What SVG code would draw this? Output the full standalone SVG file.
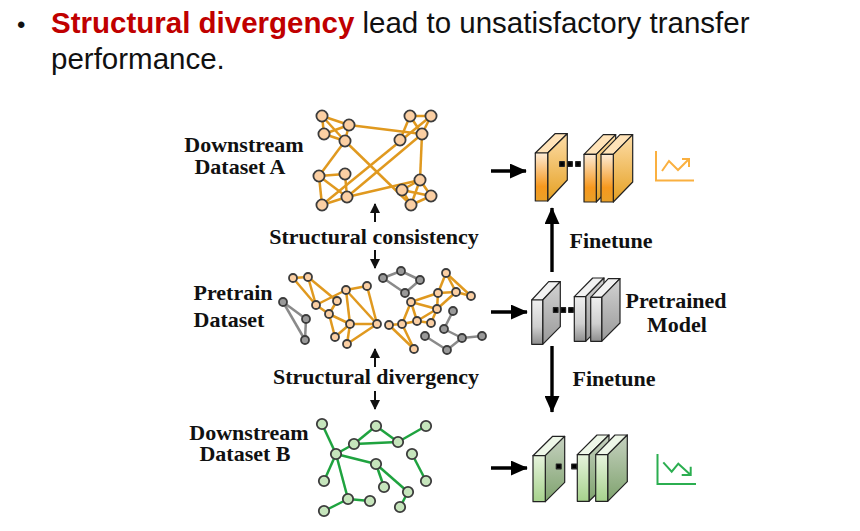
<svg xmlns="http://www.w3.org/2000/svg" width="860" height="531" viewBox="0 0 860 531">
<style>
text{font-family:"Liberation Serif","Times New Roman",serif;font-weight:bold;font-size:22px;fill:#111}
.t{font-family:"Liberation Sans",Arial,sans-serif;font-weight:normal;font-size:29.5px;fill:#111}
.o line{stroke:#E0991F;stroke-width:2.5}
.g line{stroke:#8a8a8a;stroke-width:2.5}
.n line{stroke:#1FA33F;stroke-width:2.5}
.oc circle{fill:#FBCFA3;stroke:#3c3c3c;stroke-width:1.8}
.gc circle{fill:#999;stroke:#3c3c3c;stroke-width:1.8}
.nc circle{fill:#C6E5BC;stroke:#3c3c3c;stroke-width:1.8}
.thin{stroke:#111;stroke-width:2;fill:none}
.thick{stroke:#000;stroke-width:3.4;fill:none}
.block path{stroke:#222;stroke-width:1.2;stroke-linejoin:round}
</style>
<defs>
<linearGradient id="of" x1="0" y1="0" x2="0" y2="1"><stop offset="0" stop-color="#FDEBD6"/><stop offset=".7" stop-color="#F6981E"/><stop offset="1" stop-color="#E9A028"/></linearGradient>
<linearGradient id="os" x1="0" y1="0" x2="0" y2="1"><stop offset="0" stop-color="#FDDDA8"/><stop offset="1" stop-color="#E5A022"/></linearGradient>
<linearGradient id="gf" x1="0" y1="0" x2="0" y2="1"><stop offset="0" stop-color="#EFEFEF"/><stop offset=".6" stop-color="#CFCFCF"/><stop offset="1" stop-color="#8E8E8E"/></linearGradient>
<linearGradient id="gs" x1="0" y1="0" x2="0" y2="1"><stop offset="0" stop-color="#D2D2D2"/><stop offset="1" stop-color="#999"/></linearGradient>
<linearGradient id="nf" x1="0" y1="0" x2="0" y2="1"><stop offset="0" stop-color="#E6F3DC"/><stop offset="1" stop-color="#A6D28C"/></linearGradient>
<linearGradient id="ns" x1="0" y1="0" x2="0" y2="1"><stop offset="0" stop-color="#C6D1C0"/><stop offset="1" stop-color="#7FA36E"/></linearGradient>
<marker id="ah" viewBox="0 0 10 10" refX="9" refY="5" markerWidth="10" markerHeight="10" markerUnits="userSpaceOnUse" orient="auto"><path d="M0 0L10 5L0 10Z" fill="#111"/></marker>
<marker id="AH" viewBox="0 0 10 10" refX="9.5" refY="5" markerWidth="17" markerHeight="15" markerUnits="userSpaceOnUse" orient="auto" preserveAspectRatio="none"><path d="M0 0L10 5L0 10Z" fill="#000"/></marker>
</defs>
<rect width="860" height="531" fill="#fff"/>

<g id="title">
<text class="t" x="17" y="33" style="font-size:24px">•</text>
<text class="t" x="51" y="33"><tspan font-weight="bold" fill="#C00000">Structural divergency</tspan> lead to unsatisfactory transfer</text>
<text class="t" x="51" y="69">performance.</text>
</g>

<g id="connectors">
<g class="o">
<line x1="322" y1="116" x2="349" y2="125"/><line x1="322" y1="116" x2="324" y2="134"/><line x1="322" y1="116" x2="345" y2="141"/><line x1="349" y1="125" x2="324" y2="134"/><line x1="349" y1="125" x2="345" y2="141"/><line x1="324" y1="134" x2="345" y2="141"/>
<line x1="349" y1="125" x2="422" y2="134"/><line x1="345" y1="141" x2="319" y2="176"/><line x1="345" y1="141" x2="411" y2="205"/>
<line x1="410" y1="116" x2="431" y2="116"/><line x1="410" y1="116" x2="400" y2="140"/><line x1="410" y1="116" x2="422" y2="134"/><line x1="431" y1="116" x2="422" y2="134"/><line x1="431" y1="116" x2="322" y2="205"/><line x1="422" y1="134" x2="347" y2="197"/><line x1="422" y1="134" x2="420" y2="180"/>
<line x1="319" y1="176" x2="345" y2="174"/><line x1="319" y1="176" x2="322" y2="205"/><line x1="319" y1="176" x2="347" y2="197"/><line x1="345" y1="174" x2="347" y2="197"/><line x1="347" y1="197" x2="322" y2="205"/><line x1="347" y1="197" x2="420" y2="180"/>
<line x1="420" y1="180" x2="402" y2="190"/><line x1="420" y1="180" x2="431" y2="196"/><line x1="420" y1="180" x2="411" y2="205"/><line x1="402" y1="190" x2="431" y2="196"/><line x1="402" y1="190" x2="411" y2="205"/><line x1="431" y1="196" x2="411" y2="205"/>

<line x1="293" y1="278" x2="308" y2="277"/><line x1="293" y1="278" x2="316" y2="305"/><line x1="308" y1="277" x2="316" y2="305"/><line x1="308" y1="277" x2="337" y2="301"/><line x1="316" y1="305" x2="346" y2="290"/><line x1="316" y1="305" x2="329" y2="314"/><line x1="337" y1="301" x2="329" y2="314"/><line x1="346" y1="290" x2="367" y2="286"/><line x1="346" y1="290" x2="350" y2="324"/><line x1="346" y1="290" x2="377" y2="324"/><line x1="367" y1="286" x2="377" y2="324"/><line x1="329" y1="314" x2="350" y2="324"/><line x1="329" y1="314" x2="335" y2="337"/><line x1="350" y1="324" x2="377" y2="324"/><line x1="350" y1="324" x2="335" y2="337"/><line x1="350" y1="324" x2="347" y2="344"/><line x1="377" y1="324" x2="347" y2="344"/>

<line x1="389" y1="325" x2="402" y2="324"/><line x1="389" y1="325" x2="414" y2="349"/><line x1="402" y1="324" x2="414" y2="349"/><line x1="402" y1="324" x2="417" y2="321"/><line x1="402" y1="324" x2="411" y2="302"/><line x1="417" y1="321" x2="431" y2="323"/><line x1="417" y1="321" x2="411" y2="302"/><line x1="417" y1="321" x2="437" y2="309"/><line x1="431" y1="323" x2="437" y2="309"/><line x1="411" y1="302" x2="437" y2="309"/><line x1="411" y1="302" x2="438" y2="293"/><line x1="437" y1="309" x2="438" y2="293"/><line x1="437" y1="309" x2="456" y2="292"/><line x1="438" y1="293" x2="456" y2="292"/><line x1="438" y1="293" x2="446" y2="273"/><line x1="456" y1="292" x2="446" y2="273"/><line x1="456" y1="292" x2="471" y2="296"/><line x1="446" y1="273" x2="471" y2="296"/>
</g>
<g class="g">
<line x1="283" y1="302" x2="306" y2="319"/><line x1="306" y1="319" x2="305" y2="340"/><line x1="283" y1="302" x2="305" y2="340"/>
<line x1="383" y1="278" x2="401" y2="271"/><line x1="401" y1="271" x2="420" y2="280"/><line x1="420" y1="280" x2="405" y2="293"/><line x1="405" y1="293" x2="383" y2="278"/>
<line x1="453" y1="311" x2="444" y2="329"/><line x1="444" y1="329" x2="462" y2="338"/><line x1="425" y1="336" x2="447" y2="350"/><line x1="447" y1="350" x2="462" y2="338"/><line x1="462" y1="338" x2="482" y2="336"/>
</g>
<g class="n">
<line x1="322" y1="424" x2="336" y2="454"/><line x1="336" y1="454" x2="354" y2="444"/><line x1="354" y1="444" x2="376" y2="426"/><line x1="354" y1="444" x2="398" y2="442"/><line x1="376" y1="426" x2="398" y2="442"/><line x1="398" y1="442" x2="426" y2="426"/><line x1="336" y1="454" x2="376" y2="464"/><line x1="336" y1="454" x2="324" y2="481"/><line x1="336" y1="454" x2="348" y2="499"/><line x1="376" y1="464" x2="384" y2="487"/><line x1="376" y1="464" x2="408" y2="492"/><line x1="408" y1="492" x2="400" y2="507"/><line x1="348" y1="499" x2="370" y2="501"/><line x1="348" y1="499" x2="324" y2="511"/><line x1="412" y1="454" x2="426" y2="481"/>
</g>
<g id="flow-arrows">
<line class="thin" x1="375" y1="222" x2="375" y2="204" marker-end="url(#ah)"/>
<line class="thin" x1="375" y1="250" x2="375" y2="268" marker-end="url(#ah)"/>
<line class="thin" x1="375" y1="367" x2="375" y2="349" marker-end="url(#ah)"/>
<line class="thin" x1="375" y1="391" x2="375" y2="409" marker-end="url(#ah)"/>
<line class="thick" x1="491" y1="171" x2="526" y2="171" marker-end="url(#AH)"/>
<line class="thick" x1="491" y1="312" x2="527" y2="312" marker-end="url(#AH)"/>
<line class="thick" x1="491" y1="468" x2="527" y2="468" marker-end="url(#AH)"/>
<line class="thick" x1="552" y1="272" x2="552" y2="208" marker-end="url(#AH)"/>
<line class="thick" x1="552" y1="346" x2="552" y2="412" marker-end="url(#AH)"/>
</g>
</g>

<g id="graph-a-nodes" class="oc">
<circle cx="322" cy="116" r="5.6"/><circle cx="349" cy="125" r="5.6"/><circle cx="324" cy="134" r="5.6"/><circle cx="345" cy="141" r="5.6"/><circle cx="410" cy="116" r="5.6"/><circle cx="431" cy="116" r="5.6"/><circle cx="422" cy="134" r="5.6"/><circle cx="400" cy="140" r="5.6"/><circle cx="319" cy="176" r="5.6"/><circle cx="345" cy="174" r="5.6"/><circle cx="347" cy="197" r="5.6"/><circle cx="322" cy="205" r="5.6"/><circle cx="420" cy="180" r="5.6"/><circle cx="402" cy="190" r="5.6"/><circle cx="431" cy="196" r="5.6"/><circle cx="411" cy="205" r="5.6"/>
</g>
<g id="pretrain-nodes-orange" class="oc">
<circle cx="293" cy="278" r="4"/><circle cx="308" cy="277" r="4"/><circle cx="316" cy="305" r="4"/><circle cx="337" cy="301" r="4"/><circle cx="346" cy="290" r="4"/><circle cx="367" cy="286" r="4"/><circle cx="329" cy="314" r="4"/><circle cx="350" cy="324" r="4"/><circle cx="377" cy="324" r="4"/><circle cx="335" cy="337" r="4"/><circle cx="347" cy="344" r="4"/>
<circle cx="389" cy="325" r="4"/><circle cx="402" cy="324" r="4"/><circle cx="414" cy="349" r="4"/><circle cx="417" cy="321" r="4"/><circle cx="431" cy="323" r="4"/><circle cx="411" cy="302" r="4"/><circle cx="437" cy="309" r="4"/><circle cx="438" cy="293" r="4"/><circle cx="456" cy="292" r="4"/><circle cx="446" cy="273" r="4"/><circle cx="471" cy="296" r="4"/>
</g>
<g id="pretrain-nodes-grey" class="gc">
<circle cx="283" cy="302" r="4"/><circle cx="306" cy="319" r="4"/><circle cx="305" cy="340" r="4"/><circle cx="383" cy="278" r="4"/><circle cx="401" cy="271" r="4"/><circle cx="420" cy="280" r="4"/><circle cx="405" cy="293" r="4"/><circle cx="453" cy="311" r="4"/><circle cx="444" cy="329" r="4"/><circle cx="425" cy="336" r="4"/><circle cx="447" cy="350" r="4"/><circle cx="462" cy="338" r="4"/><circle cx="482" cy="336" r="4"/>
</g>
<g id="graph-b-nodes" class="nc">
<circle cx="322" cy="424" r="5.2"/><circle cx="336" cy="454" r="5.2"/><circle cx="354" cy="444" r="5.2"/><circle cx="376" cy="426" r="5.2"/><circle cx="398" cy="442" r="5.2"/><circle cx="426" cy="426" r="5.2"/><circle cx="376" cy="464" r="5.2"/><circle cx="412" cy="454" r="5.2"/><circle cx="426" cy="481" r="5.2"/><circle cx="324" cy="481" r="5.2"/><circle cx="384" cy="487" r="5.2"/><circle cx="408" cy="492" r="5.2"/><circle cx="400" cy="507" r="5.2"/><circle cx="348" cy="499" r="5.2"/><circle cx="370" cy="501" r="5.2"/><circle cx="324" cy="511" r="5.2"/>
</g>

<g id="model-a" class="block">
<path fill="#FFE3B8" d="M535.3 153L555 133.7H567.3L547.7 153Z"/><path fill="url(#os)" d="M547.7 153L567.3 133.7V180L547.7 201Z"/><path fill="url(#of)" d="M535.3 153H547.7V201H535.3Z"/>
<path fill="#000" stroke="none" d="M559.7 161.7h4.6v4.6h-4.6zM567.7 161.7h4.6v4.6h-4.6zM575.7 161.7h4.6v4.6h-4.6z"/>
<path fill="#FFE3B8" d="M584 154.3L603.3 134.7H615.7L596.3 154.3Z"/><path fill="url(#os)" d="M596.3 154.3L615.7 134.7V182L596.3 202Z"/><path fill="url(#of)" d="M584 154.3H596.3V202H584Z"/>
<path fill="#FFE3B8" d="M601 154.3L620 134.7H632.7L613.3 154.3Z"/><path fill="url(#os)" d="M613.3 154.3L632.7 134.7V182L613.3 202Z"/><path fill="url(#of)" d="M601 154.3H613.3V202H601Z"/>
</g>
<g id="model-pretrained" class="block">
<path fill="#F2F2F2" d="M531.7 300L548.7 281.7H560.3L542.7 300Z"/><path fill="url(#gs)" d="M542.7 300L560.3 281.7V326.7L542.7 344.3Z"/><path fill="url(#gf)" d="M531.7 300H542.7V344.3H531.7Z"/>
<path fill="#000" stroke="none" d="M553.4 307.7h4.6v4.6h-4.6zM561 307.7h4.6v4.6h-4.6zM568.7 307.7h4.6v4.6h-4.6z"/>
<path fill="#F2F2F2" d="M574.3 296.7L592.7 278H604L585.7 296.7Z"/><path fill="url(#gs)" d="M585.7 296.7L604 278V323L585.7 341.3Z"/><path fill="url(#gf)" d="M574.3 296.7H585.7V341.3H574.3Z"/>
<path fill="#F2F2F2" d="M590.7 297.3L608.3 278.7H620L601.7 297.3Z"/><path fill="url(#gs)" d="M601.7 297.3L620 278.7V323L601.7 341.3Z"/><path fill="url(#gf)" d="M590.7 297.3H601.7V341.3H590.7Z"/>
</g>
<g id="model-b" class="block">
<path fill="#EEF7E8" d="M533 455.7L552.7 436.3H564.7L545.3 455.7Z"/><path fill="url(#ns)" d="M545.3 455.7L564.7 436.3V482.3L545.3 501.7Z"/><path fill="url(#nf)" d="M533 455.7H545.3V501.7H533Z"/>
<path fill="#000" stroke="none" d="M556.3 464h4.8v4.8h-4.8zM571.7 464h5v4.8h-5z"/>
<path fill="#EEF7E8" d="M577.3 454.7L597 435H609L589 454.7Z"/><path fill="url(#ns)" d="M589 454.7L609 435V481.7L589 501.3Z"/><path fill="url(#nf)" d="M577.3 454.7H589V501.3H577.3Z"/>
<path fill="#EEF7E8" d="M595.7 454.7L615 435H627.3L607.7 454.7Z"/><path fill="url(#ns)" d="M607.7 454.7L627.3 435V481.7L607.7 501.3Z"/><path fill="url(#nf)" d="M595.7 454.7H607.7V501.3H595.7Z"/>
</g>

<g id="chart-up" fill="none" stroke="#FAB040" stroke-width="2">
<path d="M656 151V180.5H694"/><path d="M662 171L669 161L678 170L689 159M682 159H689V167"/>
</g>
<g id="chart-down" fill="none" stroke="#2BAE50" stroke-width="2">
<path d="M657.5 454V484H696"/><path d="M663.3 462.3L671.7 471.7L678.3 463.7L690.7 475M681.7 475H690.7V466.7"/>
</g>

<g id="labels">
<text x="244" y="152" text-anchor="middle">Downstream</text>
<text x="240" y="174" text-anchor="middle">Dataset A</text>
<text x="374" y="244" text-anchor="middle">Structural consistency</text>
<text x="233" y="300" text-anchor="middle">Pretrain</text>
<text x="229" y="327" text-anchor="middle">Dataset</text>
<text x="376" y="384" text-anchor="middle">Structural divergency</text>
<text x="249" y="440" text-anchor="middle">Downstream</text>
<text x="245" y="461" text-anchor="middle">Dataset B</text>
<text x="611" y="248" text-anchor="middle">Finetune</text>
<text x="614" y="386" text-anchor="middle">Finetune</text>
<text x="676" y="308" text-anchor="middle">Pretrained</text>
<text x="677" y="332" text-anchor="middle">Model</text>
</g>
</svg>
